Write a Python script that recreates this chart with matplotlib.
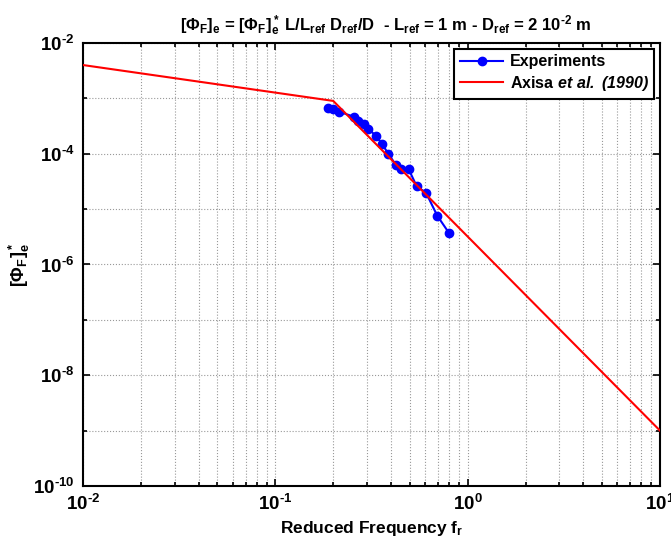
import matplotlib
matplotlib.use("Agg")
import matplotlib.pyplot as plt
from matplotlib.ticker import FixedLocator, NullFormatter, FuncFormatter
import numpy as np

plt.rcParams['font.family'] = ['Liberation Sans', 'DejaVu Sans']
plt.rcParams['font.weight'] = 'bold'
plt.rcParams['mathtext.fontset'] = 'custom'
plt.rcParams['mathtext.rm'] = 'Liberation Sans:bold'
plt.rcParams['mathtext.bf'] = 'Liberation Sans:bold'
plt.rcParams['mathtext.it'] = 'Liberation Sans:bold'
plt.rcParams['mathtext.sf'] = 'Liberation Sans:bold:italic'

HY = '\u2010'

# Experimental data
exp_fr = [0.187, 0.200, 0.215, 0.255, 0.270, 0.289, 0.305, 0.334, 0.360,
          0.387, 0.423, 0.449, 0.494, 0.543, 0.608, 0.695, 0.80]
exp_phi = [6.8e-4, 6.4e-4, 5.7e-4, 4.7e-4, 3.9e-4, 3.4e-4, 2.8e-4, 2.1e-4, 1.47e-4,
           1.0e-4, 6.3e-5, 5.2e-5, 5.2e-5, 2.6e-5, 1.96e-5, 7.6e-6, 3.7e-6]

# Axisa et al. (1990) reference spectrum
axisa_fr = [0.01, 0.2, 10.0]
axisa_phi = [4.0e-3, 9.0e-4, 1.0e-9]

x_ticks = [1e-2, 1e-1, 1e0, 1e1]
y_ticks = [1e-10, 1e-8, 1e-6, 1e-4, 1e-2]
y_minor = [1e-9, 1e-7, 1e-5, 1e-3]

fig = plt.figure(figsize=(6.71, 5.43), dpi=100)
ax = fig.add_axes([0.1237, 0.105, 0.8599, 0.8158])

ax.plot(exp_fr, exp_phi, color='#0000ff', marker='o', markersize=6,
        linewidth=1.5, label='Experiments', zorder=3)
ax.plot(axisa_fr, axisa_phi, color='#ff0000', linewidth=1.5,
        label=r'Axisa $\mathsf{et\ al.\ (1990)}$', zorder=4)

ax.set_xscale('log')
ax.set_yscale('log')
ax.set_xlim(1e-2, 1e1)
ax.set_ylim(1e-10, 1e-2)
ax.xaxis.set_major_locator(FixedLocator(x_ticks))
ax.yaxis.set_major_locator(FixedLocator(y_ticks))
ax.yaxis.set_minor_locator(FixedLocator(y_minor))
ax.yaxis.set_minor_formatter(NullFormatter())

def fmt(v, pos):
    e = int(round(np.log10(v)))
    s = str(e).replace('-', HY)
    return r'$\mathdefault{10^{' + s + r'}}$'

ax.xaxis.set_major_formatter(FuncFormatter(fmt))
ax.yaxis.set_major_formatter(FuncFormatter(fmt))

ax.grid(True, which='both', linestyle=':', color='#999999', linewidth=0.8)

ax.tick_params(which='both', direction='in', top=True, right=True,
               labelsize=13.5, width=1.2)
ax.tick_params(which='major', length=5, pad=6)
ax.tick_params(which='minor', length=3)
for s in ax.spines.values():
    s.set_linewidth(1.5)

ax.set_xlabel(r'Reduced Frequency f$_r$', fontsize=12.5, fontweight='bold', labelpad=3)
ax.set_ylabel(r'$[\Phi_F]_e^*$', fontsize=13, labelpad=1)
title = (r'$[\Phi_F]_e$ = $[\Phi_F]_e^*$ L/L$_{ref}$ D$_{ref}$/D  - L$_{ref}$ = 1 m - D$_{ref}$ = 2 10$^{'
         + HY + r'2}$ m')
ax.set_title(title, fontsize=12, fontweight='bold', pad=9, x=0.525)

leg = ax.legend(loc='upper right', fontsize=11.5, frameon=True, fancybox=False,
                edgecolor='black', borderaxespad=0.35, handlelength=2.7,
                borderpad=0.35, labelspacing=0.3, handletextpad=0.4)
leg.get_frame().set_linewidth(1.5)
leg.get_frame().set_alpha(1)

fig.savefig('out.png', dpi=100)
